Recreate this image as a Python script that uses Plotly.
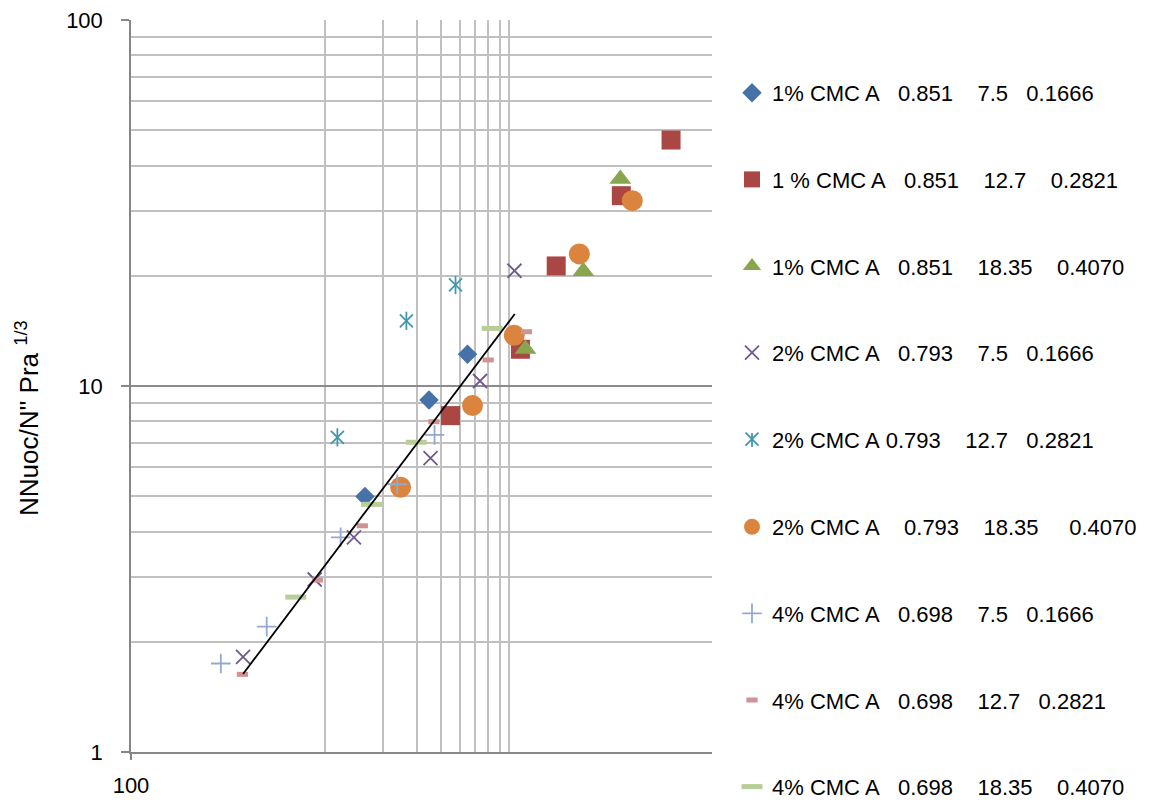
import plotly.graph_objects as go

NB = "\u00a0"
def sp(n):
    return NB * n

# ---------------- data ----------------
series_names = [
    "1% CMC A" + sp(3) + "0.851" + sp(4) + "7.5" + sp(3) + "0.1666",
    "1 % CMC A" + sp(3) + "0.851" + sp(4) + "12.7" + sp(4) + "0.2821",
    "1% CMC A" + sp(3) + "0.851" + sp(4) + "18.35" + sp(4) + "0.4070",
    "2% CMC A" + sp(3) + "0.793" + sp(4) + "7.5" + sp(3) + "0.1666",
    "2% CMC A" + sp(1) + "0.793" + sp(4) + "12.7" + sp(3) + "0.2821",
    "2% CMC A" + sp(4) + "0.793" + sp(4) + "18.35" + sp(5) + "0.4070",
    "4% CMC A" + sp(3) + "0.698" + sp(4) + "7.5" + sp(3) + "0.1666",
    "4% CMC A" + sp(3) + "0.698" + sp(4) + "12.7" + sp(3) + "0.2821",
    "4% CMC A" + sp(3) + "0.698" + sp(4) + "18.35" + sp(4) + "0.4070",
]

cmc1_75_x = [1614, 3458, 5465]
cmc1_75_y = [4.99, 9.16, 12.21]

cmc1_127_x = [4465, 10252, 15687, 34020, 61450]
cmc1_127_y = [8.30, 12.60, 21.28, 33.11, 47.0]

cmc1_1835_x = [10880, 21660, 33620]
cmc1_1835_y = [12.62, 20.58, 36.78]

cmc2_75_x = [379, 888, 1416, 3521, 6339, 9548]
cmc2_75_y = [1.82, 2.96, 3.86, 6.35, 10.32, 20.65]

cmc2_127_x = [1163, 2642, 4739]
cmc2_127_y = [7.24, 15.07, 18.88]

cmc2_1835_x = [2466, 5799, 9526, 20660, 38760]
cmc2_1835_y = [5.29, 8.84, 13.76, 22.95, 32.09]

cmc4_75_x = [291, 502, 1209, 2371, 3692]
cmc4_75_y = [1.745, 2.20, 3.86, 5.39, 7.35]

cmc4_127_x = [376, 917, 1565, 3662, 6987, 11010]
cmc4_127_y = [1.63, 2.95, 4.15, 7.99, 11.78, 14.07]

cmc4_1835_x = [709, 1748, 2972, 7326]
cmc4_1835_y = [2.65, 4.75, 7.02, 14.37]

fit_x = [379, 9581]
fit_y = [1.634, 15.73]

x_tick_vals = [100]
x_tick_text = ["100"]
x_grid_vals = [1000, 2000, 3000, 4000, 5000, 6000, 7000, 8000, 9000, 100000]
y_tick_vals = [1, 10, 100]
y_tick_text = ["1", "10", "100"]
y_minor_vals = [2, 3, 4, 5, 6, 7, 8, 9, 20, 30, 40, 50, 60, 70, 80, 90]
y_title = "NNuoc/N'' Pra <sup>1/3</sup>"

# ---------------- layout constants (pixels) ----------------
W, H = 1149, 804
PL, PR, PT, PB = 131, 712, 20, 752   # plot area edges
PW, PHt = PR - PL, PB - PT

def px_x(p):
    return (p - PL) / PW

def px_y(p):
    return (PB - p) / PHt

# ---------------- figure ----------------
fig = go.Figure()

def add(xs, ys, name, group, marker, legend="legend", showlegend=True):
    fig.add_trace(go.Scatter(
        x=xs, y=ys, mode="markers", name=name, legendgroup=group,
        legend=legend, showlegend=showlegend, marker=marker, cliponaxis=False,
    ))

add(cmc1_75_x, cmc1_75_y, series_names[0], "g1",
    dict(symbol="diamond", size=15, color="#4572A7", line=dict(width=0)))
add(cmc1_127_x, cmc1_127_y, series_names[1], "g2",
    dict(symbol="square", size=19, color="#AA4643", line=dict(width=0)))
add(cmc1_1835_x, cmc1_1835_y, series_names[2], "g3",
    dict(symbol="triangle-up", size=19, color="#89A54E", line=dict(width=0)))
add(cmc2_75_x, cmc2_75_y, series_names[3], "g4",
    dict(symbol="x-thin-open", size=14, color="#71588F", line=dict(width=1.8, color="#71588F")))
add(cmc2_127_x, cmc2_127_y, series_names[4], "g5",
    dict(symbol="x-thin-open", size=13, color="#4198AF", line=dict(width=1.8, color="#4198AF")))
add(cmc2_127_x, cmc2_127_y, series_names[4], "g5",
    dict(symbol="line-ns-open", size=13, color="#4198AF", line=dict(width=1.8, color="#4198AF")),
    showlegend=False)
add(cmc2_1835_x, cmc2_1835_y, series_names[5], "g6",
    dict(symbol="circle", size=21, color="#DB843D", line=dict(width=0)), legend="legend2")
add(cmc4_75_x, cmc4_75_y, series_names[6], "g7",
    dict(symbol="cross-thin-open", size=14, color="#93A9CF", line=dict(width=1.8, color="#93A9CF")),
    legend="legend2")
add(cmc4_127_x, cmc4_127_y, series_names[7], "g8",
    dict(symbol="line-ew-open", size=8, color="#D19392", line=dict(width=5, color="#D19392")),
    legend="legend2")
add(cmc4_1835_x, cmc4_1835_y, series_names[8], "g9",
    dict(symbol="line-ew-open", size=15, color="#B9CD96", line=dict(width=5, color="#B9CD96")),
    legend="legend2")

fig.add_trace(go.Scatter(
    x=fit_x, y=fit_y, mode="lines", showlegend=False,
    line=dict(color="black", width=1.8),
))

FONT = "Liberation Sans, Arial, sans-serif"

legend_style = dict(
    xref="container", yref="container", xanchor="left", yanchor="top",
    font=dict(family=FONT, size=22, color="black"),
    tracegroupgap=55, bgcolor="rgba(0,0,0,0)", borderwidth=0,
    itemsizing="trace",
)

fig.update_layout(
    width=W, height=H,
    margin=dict(l=PL, r=W - PR, t=PT, b=H - PB, autoexpand=False),
    paper_bgcolor="white", plot_bgcolor="white",
    font=dict(family=FONT, size=22, color="black"),
    legend=dict(x=732 / W, y=1 - 72 / H, **legend_style),
    legend2=dict(x=732 / W, y=1 - 506 / H, **legend_style),
    xaxis=dict(
        type="log", range=[2, 5], automargin=False,
        tickmode="array", tickvals=x_tick_vals, ticktext=x_tick_text,
        showgrid=False, zeroline=False,
        showline=True, linecolor="#868686", linewidth=1.5,
        ticks="outside", ticklen=6, tickcolor="#868686", tickwidth=1.5,
        ticklabelstandoff=7,
        tickfont=dict(family=FONT, size=22, color="black"),
        minor=dict(tickmode="array", tickvals=x_grid_vals, showgrid=True,
                   gridcolor="#C0C0C0", gridwidth=1.5, ticks=""),
    ),
    yaxis=dict(
        type="log", range=[0, 2], automargin=False,
        tickmode="array", tickvals=y_tick_vals, ticktext=y_tick_text,
        showgrid=True, gridcolor="#8C8C8C", gridwidth=1.5, zeroline=False,
        showline=True, linecolor="#868686", linewidth=1.5,
        ticks="outside", ticklen=8, tickcolor="#868686", tickwidth=1.5,
        ticklabelstandoff=14,
        tickfont=dict(family=FONT, size=22, color="black"),
        minor=dict(tickmode="array", tickvals=y_minor_vals, showgrid=True,
                   gridcolor="#C0C0C0", gridwidth=1.5, ticks=""),
    ),
    annotations=[dict(
        text=y_title, textangle=-90, showarrow=False,
        xref="paper", yref="paper", x=px_x(27), y=px_y(418),
        xanchor="center", yanchor="middle",
        font=dict(family=FONT, size=26, color="black"),
    )],
    shapes=[dict(  # vertical stroke completing the star symbol in the legend
        type="line", xref="paper", yref="paper",
        x0=px_x(752), x1=px_x(752), y0=px_y(433), y1=px_y(447),
        line=dict(color="#4198AF", width=1.8),
    )],
)

fig.write_html("out.html")
